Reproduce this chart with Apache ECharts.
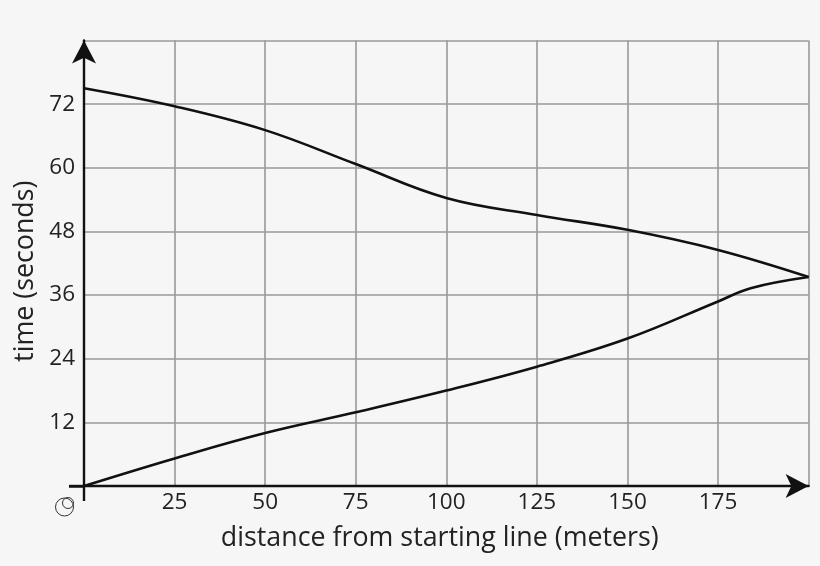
<!DOCTYPE html>
<html><head><meta charset="utf-8">
<style>html,body{margin:0;padding:0;background:#f6f6f6}#c{width:820px;height:566px}</style>
<script src="https://cdn.jsdelivr.net/npm/echarts@6/dist/echarts.min.js"></script>
</head><body><div id="c"></div>
<script>
const hiddenLabels = [0, 200, 84];
const upperX = [0, 25, 50, 75, 100, 125, 150, 175, 200];
const upperT = [75, 71.6, 67.1, 60.7, 54.3, 51.1, 48.3, 44.5, 39.4];
const lowerX = [0, 25, 50, 75, 100, 125, 150, 175, 184, 200];
const lowerT = [0, 5.2, 10, 13.9, 18, 22.5, 27.8, 34.8, 37.3, 39.4];
const xName = 'distance from starting line (meters)';
const yName = 'time (seconds)';
const font = '"Open Sans"';
const pairs = (a, b) => a.map((v, i) => [v, b[i]]);
const curve = (d) => ({type:'line', data:d, smooth:0.4, showSymbol:false, silent:true,
  lineStyle:{color:'#111', width:2.6}});
const labelText = (v) => hiddenLabels.includes(v) ? '' : String(v);
const chart = echarts.init(document.getElementById('c'), null, {renderer:'canvas'});
const axisLine = () => ({show:true, onZero:false, symbol:['none','arrow'], symbolSize:[18,23], symbolOffset:[0,0],
  lineStyle:{color:'#111', width:2.4}});
const stubTick = {show:true, customValues:[0], length:15, lineStyle:{color:'#111', width:2.4}};
const gridAxis = {type:'value', min:0, axisLine:{show:false}, axisTick:{show:false}, axisLabel:{show:false},
  splitLine:{show:true, lineStyle:{color:'#999', width:1.6}}};
chart.setOption({
  backgroundColor:'#f6f6f6',
  animation:false,
  grid:{left:84, right:11.4, top:40.5, bottom:80},
  xAxis:[{type:'value', min:0, max:200, interval:25,
    name:xName, nameLocation:'middle', nameGap:39,
    nameTextStyle:{fontFamily:font, fontSize:26.8, color:'#222', padding:[0,13,0,0]},
    axisLine:axisLine(), axisTick:stubTick,
    axisLabel:{formatter:labelText, fontFamily:font, fontSize:22.5, color:'#222', margin:5},
    splitLine:{show:false}},
    Object.assign({max:200, interval:25}, gridAxis)],
  yAxis:[{type:'value', min:0, max:84, interval:12,
    name:yName, nameLocation:'middle', nameGap:44,
    nameTextStyle:{fontFamily:font, fontSize:26.8, color:'#222', padding:[0,16,0,0]},
    axisLine:axisLine(), axisTick:stubTick,
    axisLabel:{formatter:labelText, fontFamily:font, fontSize:22.5, color:'#222', margin:9},
    splitLine:{show:false}},
    Object.assign({max:84, interval:12}, gridAxis)],
  graphic:[
    {type:'line', shape:{x1:69, y1:486.5, x2:85, y2:486.5}, style:{stroke:'#111', lineWidth:2.4}},
    {type:'circle', shape:{cx:64.5, cy:507, r:9}, style:{fill:'none', stroke:'#333', lineWidth:1}},
    {type:'circle', shape:{cx:68, cy:503, r:5.5}, style:{fill:'none', stroke:'#333', lineWidth:1}}
  ],
  series:[curve(pairs(upperX, upperT)), curve(pairs(lowerX, lowerT))]
});
</script></body></html>
